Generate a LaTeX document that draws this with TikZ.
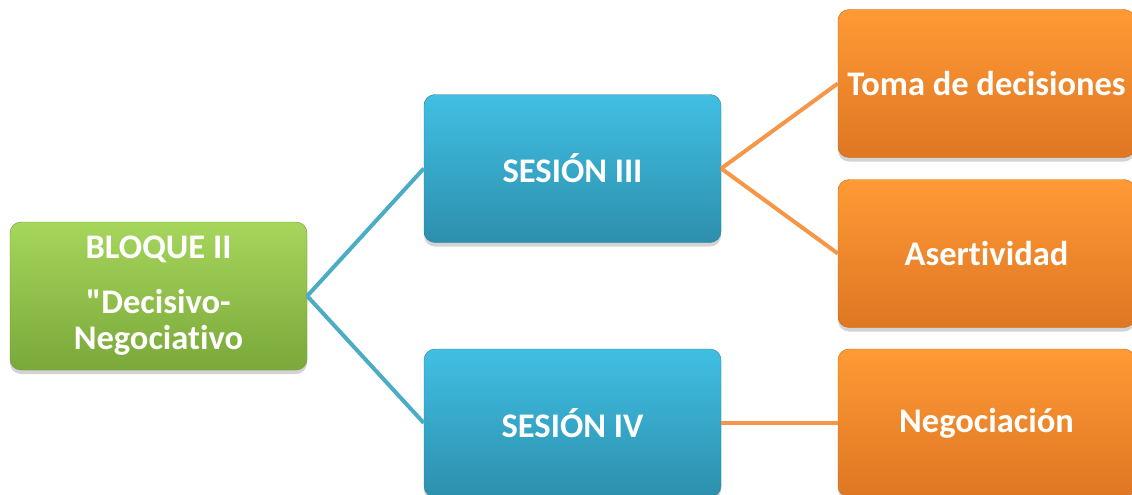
\documentclass[tikz,border=0pt]{standalone}
\usepackage{fontspec}
\setmainfont{Carlito}[Ligatures=NoCommon]
\usetikzlibrary{positioning,shadows}

\definecolor{verdeA}{HTML}{A6D65C}
\definecolor{verdeB}{HTML}{7AA83A}
\definecolor{azulA}{HTML}{40BFE3}
\definecolor{azulB}{HTML}{2D8FAD}
\definecolor{naranjaA}{HTML}{FF9A35}
\definecolor{naranjaB}{HTML}{DE7623}
\definecolor{lineaAzul}{HTML}{4BACC6}
\definecolor{lineaNaranja}{HTML}{F79646}

\begin{document}
\begin{tikzpicture}[
    x=1pt, y=-1pt,
    caja/.style={rounded corners=11pt, minimum width=297pt, minimum height=148pt, align=center,
        text=white, font=\fontsize{34.5}{36}\selectfont\bfseries,
        drop shadow={shadow xshift=0pt, shadow yshift=-4pt, opacity=0.35}},
    bloque/.style={caja, top color=verdeA, bottom color=verdeB, draw=verdeB!90!black, line width=0.4pt},
    sesion/.style={caja, top color=azulA, bottom color=azulB, draw=azulB!90!black, line width=0.4pt},
    tema/.style={caja, top color=naranjaA, bottom color=naranjaB, draw=naranjaB!90!black, line width=0.4pt},
    ramaA/.style={draw=lineaAzul, line width=4pt},
    ramaN/.style={draw=lineaNaranja, line width=4pt}
]
\useasboundingbox (0,0) rectangle (1132,495);

\node[bloque] (bloque) at (158.5,296) {BLOQUE II\\[19pt]\textquotedbl Decisivo-\\Negociativo};
\node[sesion] (ses3) at (572.5,168.5) {SESIÓN III};
\node[sesion] (ses4) at (572.5,423) {SESIÓN IV};
\node[tema] (toma) at (986.5,83.5) {Toma de decisiones};
\node[tema] (aser) at (986.5,253.5) {Asertividad};
\node[tema] (nego) at (986.5,423) {Negociación};

\draw[ramaA] (bloque.east) -- (ses3.west);
\draw[ramaA] (bloque.east) -- (ses4.west);
\draw[ramaN] (ses3.east) -- (toma.west);
\draw[ramaN] (ses3.east) -- (aser.west);
\draw[ramaN] (ses4.east) -- (nego.west);
\end{tikzpicture}
\end{document}
